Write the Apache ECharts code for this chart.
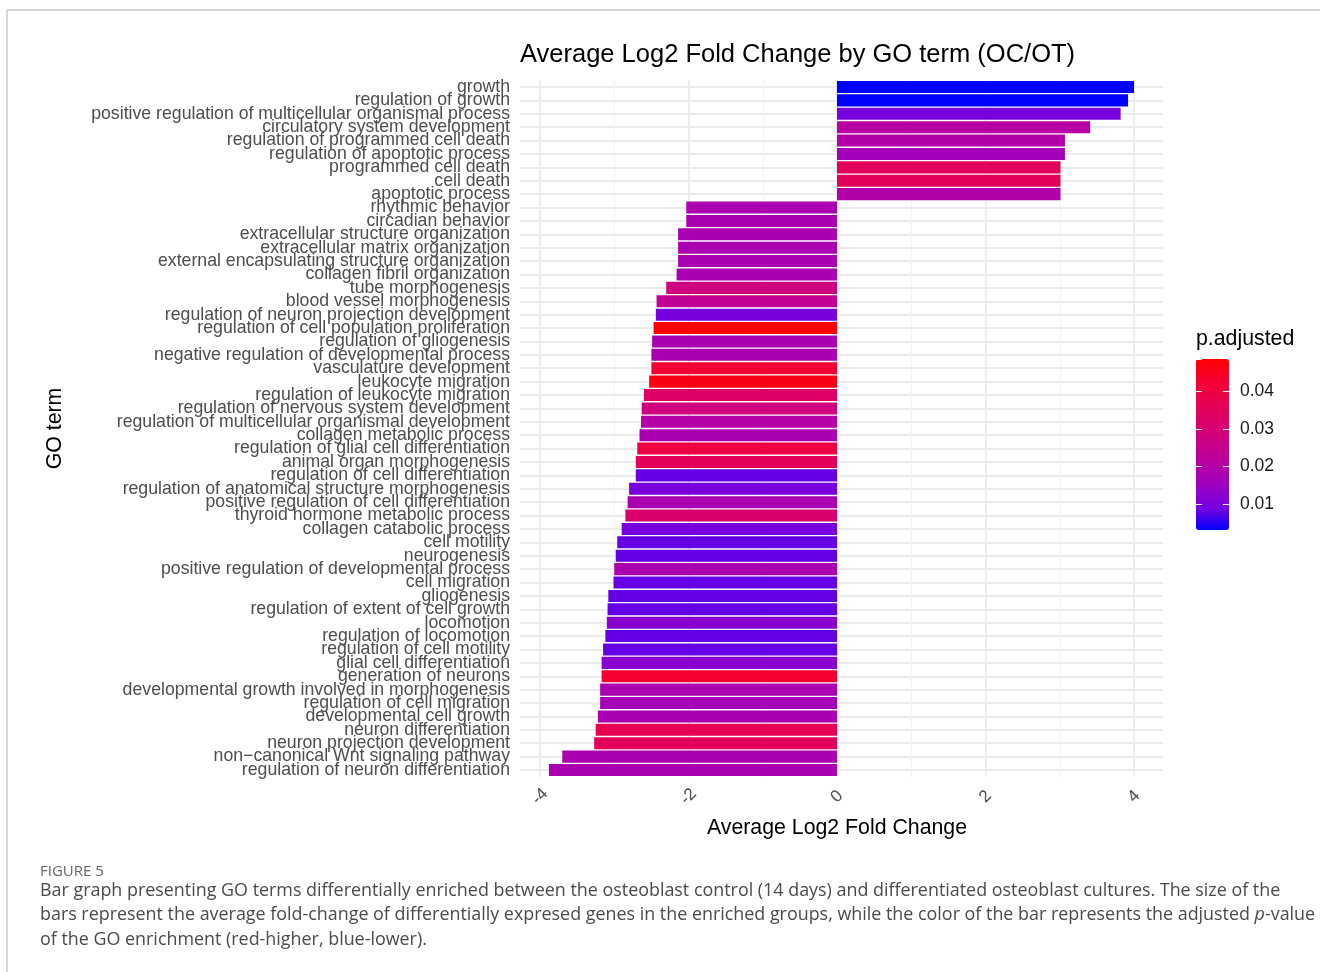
<!DOCTYPE html>
<html>
<head>
<meta charset="utf-8">
<script src="https://cdn.jsdelivr.net/npm/echarts@6/dist/echarts.min.js"></script>
<style>
  html, body { margin: 0; padding: 0; background: #ffffff; }
  #chart { width: 1320px; height: 972px; }
</style>
</head>
<body>
<div id="chart"></div>
<script>
const categories = [
  'growth',
  'regulation of growth',
  'positive regulation of multicellular organismal process',
  'circulatory system development',
  'regulation of programmed cell death',
  'regulation of apoptotic process',
  'programmed cell death',
  'cell death',
  'apoptotic process',
  'rhythmic behavior',
  'circadian behavior',
  'extracellular structure organization',
  'extracellular matrix organization',
  'external encapsulating structure organization',
  'collagen fibril organization',
  'tube morphogenesis',
  'blood vessel morphogenesis',
  'regulation of neuron projection development',
  'regulation of cell population proliferation',
  'regulation of gliogenesis',
  'negative regulation of developmental process',
  'vasculature development',
  'leukocyte migration',
  'regulation of leukocyte migration',
  'regulation of nervous system development',
  'regulation of multicellular organismal development',
  'collagen metabolic process',
  'regulation of glial cell differentiation',
  'animal organ morphogenesis',
  'regulation of cell differentiation',
  'regulation of anatomical structure morphogenesis',
  'positive regulation of cell differentiation',
  'thyroid hormone metabolic process',
  'collagen catabolic process',
  'cell motility',
  'neurogenesis',
  'positive regulation of developmental process',
  'cell migration',
  'gliogenesis',
  'regulation of extent of cell growth',
  'locomotion',
  'regulation of locomotion',
  'regulation of cell motility',
  'glial cell differentiation',
  'generation of neurons',
  'developmental growth involved in morphogenesis',
  'regulation of cell migration',
  'developmental cell growth',
  'neuron differentiation',
  'neuron projection development',
  'non\u2212canonical Wnt signaling pathway',
  'regulation of neuron differentiation'
];

const log2FoldChange = [
  4.00, 3.92, 3.82, 3.41, 3.07, 3.07, 3.01, 3.01, 3.01,
  -2.03, -2.03, -2.14, -2.14, -2.14, -2.16, -2.30, -2.43, -2.44, -2.47,
  -2.49, -2.50, -2.50, -2.53, -2.60, -2.63, -2.64, -2.66, -2.69, -2.71,
  -2.71, -2.80, -2.82, -2.85, -2.90, -2.96, -2.98, -3.00, -3.01, -3.08,
  -3.09, -3.10, -3.12, -3.15, -3.17, -3.17, -3.19, -3.19, -3.22, -3.25,
  -3.27, -3.70, -3.88
];

const pAdjusted = [
  0.0031, 0.0031, 0.0095, 0.0204, 0.0195, 0.0163, 0.0350, 0.0350, 0.0195,
  0.0181, 0.0181, 0.0181, 0.0181, 0.0181, 0.0178, 0.0277, 0.0236, 0.0095, 0.0487,
  0.0181, 0.0178, 0.0423, 0.0464, 0.0332, 0.0280, 0.0200, 0.0178, 0.0396, 0.0350,
  0.0081, 0.0095, 0.0180, 0.0314, 0.0095, 0.0081, 0.0081, 0.0181, 0.0081, 0.0081,
  0.0081, 0.0122, 0.0081, 0.0081, 0.0122, 0.0432, 0.0180, 0.0168, 0.0180, 0.0368,
  0.0350, 0.0181, 0.0181
];

const pRange = [0.0031, 0.0487];
const xRange = [-4, 4];

const FONT = 'Liberation Sans';
const CAP = '"Open Sans"';
const chart = echarts.init(document.getElementById('chart'));

const seriesData = categories.map((c, i) => [log2FoldChange[i], c, pAdjusted[i]]);

const option = {
  backgroundColor: '#ffffff',
  animation: false,
  textStyle: { fontFamily: FONT },
  title: {
    text: 'Average Log2 Fold Change by GO term (OC/OT)',
    left: 520, top: 42, padding: 0,
    textStyle: { fontFamily: FONT, fontSize: 25.5, fontWeight: 'normal', color: '#000000' }
  },
  grid: [
    { left: 520, top: 87, width: 643, height: 683, containLabel: false },
    { left: 540, top: 80.3, width: 594, height: 696.4, containLabel: false },
    { left: 1196, top: 359, width: 33, height: 171, containLabel: false }
  ],
  xAxis: [
    { gridIndex: 0, type: 'value', show: false, min: 0, max: 1 },
    {
      gridIndex: 1, type: 'value', min: xRange[0], max: xRange[1], interval: 2,
      axisLine: { show: false }, axisTick: { show: false },
      axisLabel: {
        rotate: 45, align: 'center', verticalAlign: 'middle', margin: 20,
        fontSize: 17, color: '#4D4D4D', fontFamily: FONT
      },
      splitLine: { show: true, lineStyle: { color: '#EBEBEB', width: 1.8 } },
      minorTick: { show: false, splitNumber: 2 },
      minorSplitLine: { show: true, lineStyle: { color: '#F2F2F2', width: 1 } },
      name: 'Average Log2 Fold Change', nameLocation: 'middle', nameGap: 41,
      nameTextStyle: { fontSize: 21.3, color: '#000000', fontFamily: FONT }
    },
    { gridIndex: 2, type: 'value', show: false, min: 0, max: 1 }
  ],
  yAxis: [
    {
      gridIndex: 0, type: 'category', data: categories, inverse: true, boundaryGap: false,
      axisLine: { show: false }, axisTick: { show: false },
      axisLabel: { interval: 0, fontSize: 17.7, color: '#4D4D4D', margin: 10, fontFamily: FONT },
      splitLine: { show: true, interval: 0, lineStyle: { color: '#EBEBEB', width: 1.8 } },
      name: 'GO term', nameLocation: 'middle', nameRotate: 90, nameGap: 454,
      nameTextStyle: { fontSize: 21.3, color: '#000000', fontFamily: FONT }
    },
    {
      gridIndex: 1, type: 'category', data: categories, inverse: true, show: false
    },
    {
      gridIndex: 2, type: 'value', min: pRange[0], max: pRange[1], splitNumber: 4,
      position: 'left', z: 10,
      axisLine: { show: false },
      axisTick: { show: true, inside: true, length: 6, lineStyle: { color: '#ffffff', width: 1 } },
      axisLabel: { show: false },
      splitLine: { show: false }
    },
    {
      gridIndex: 2, type: 'value', min: pRange[0], max: pRange[1], splitNumber: 4,
      position: 'right', z: 10,
      axisLine: { show: false },
      axisTick: { show: true, inside: true, length: 6, lineStyle: { color: '#ffffff', width: 1 } },
      axisLabel: {
        showMinLabel: false, showMaxLabel: false, margin: 11,
        fontSize: 17.5, color: '#1A1A1A', fontFamily: FONT,
        formatter: v => v.toFixed(2)
      },
      splitLine: { show: false }
    }
  ],
  visualMap: {
    type: 'continuous', seriesIndex: 0, dimension: 2,
    min: pRange[0], max: pRange[1],
    calculable: false, realtime: false, hoverLink: false,
    orient: 'vertical', left: 1196, top: 359, padding: 0,
    itemWidth: 33, itemHeight: 171, text: null, showLabel: false,
    inRange: {
      color: ['#0000FF', '#7300E0', '#9A00C3', '#B500A5', '#C90089', '#DA006C', '#E80050', '#F40031', '#FF0000']
    }
  },
  series: [
    {
      type: 'bar', xAxisIndex: 1, yAxisIndex: 1,
      data: seriesData, encode: { x: 0, y: 1 },
      barWidth: '90%'
    }
  ],
  graphic: [
    { type: 'line', shape: { x1: 7, y1: 10, x2: 1320, y2: 10 }, style: { stroke: '#C8C8C8', lineWidth: 1.5 } },
    { type: 'line', shape: { x1: 7, y1: 10, x2: 7, y2: 972 }, style: { stroke: '#C8C8C8', lineWidth: 1.5 } },
    { type: 'text', x: 1196, y: 339, style: { text: 'p.adjusted', font: '21.3px "Liberation Sans"', fill: '#000000', textVerticalAlign: 'middle' } },
    { type: 'text', x: 40, y: 872, style: { text: 'FIGURE 5', font: '15px ' + CAP, fill: '#666666', textVerticalAlign: 'middle' } },
    { type: 'text', x: 40, y: 891, style: { text: 'Bar graph presenting GO terms differentially enriched between the osteoblast control (14 days) and differentiated osteoblast cultures. The size of the', font: '17.9px ' + CAP, fill: '#4A4A4A', textVerticalAlign: 'middle' } },
    { type: 'text', x: 40, y: 915, style: {
        text: '{n|bars represent the average fold-change of differentially expresed genes in the enriched groups, while the color of the bar represents the adjusted }{i|p}{n|-value}',
        textVerticalAlign: 'middle',
        rich: {
          n: { font: '17.9px ' + CAP, fill: '#4A4A4A' },
          i: { font: 'italic 17.9px ' + CAP, fill: '#4A4A4A' }
        }
    } },
    { type: 'text', x: 40, y: 940, style: { text: 'of the GO enrichment (red-higher, blue-lower).', font: '17.9px ' + CAP, fill: '#4A4A4A', textVerticalAlign: 'middle' } }
  ]
};

chart.setOption(option);
</script>
</body>
</html>
